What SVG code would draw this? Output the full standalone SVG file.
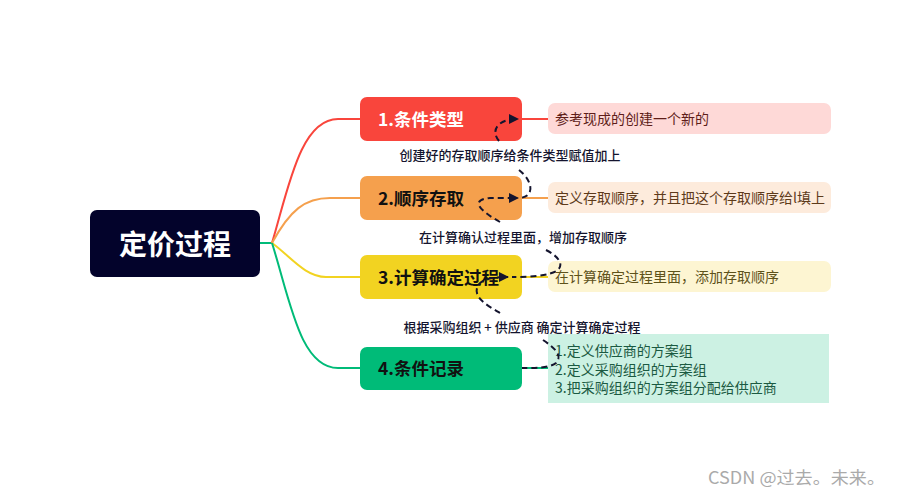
<svg xmlns="http://www.w3.org/2000/svg" width="902" height="496" viewBox="0 0 902 496">
<defs>
<marker id="arr" viewBox="0 0 10 10" refX="9" refY="5" markerWidth="5" markerHeight="5" orient="auto" markerUnits="strokeWidth">
<path d="M0,0 L10,5 L0,10 z" fill="#14142e"/>
</marker>
<style>
.branch{fill:none;stroke-width:2}
.rel{fill:none;stroke:#14142e;stroke-width:2;stroke-dasharray:6 4}
.ntext{font-family:"Noto Sans CJK SC","Noto Sans",sans-serif;font-weight:bold;font-size:17.5px;fill:#111}
.ltext{font-family:"Noto Sans CJK SC","Noto Sans",sans-serif;font-size:14px}
.rtext{font-family:"Noto Sans CJK SC","Noto Sans",sans-serif;font-size:13px;font-weight:500;fill:#14142e}
</style>
</defs>
<rect width="902" height="496" fill="#fff"/>
<g id="connectors">
<line x1="260" y1="243" x2="273" y2="243" stroke="#00BB78" stroke-width="2"/>
<path class="branch" stroke="#F9453C" d="M272,243 C288,190 300,119 338,119 L360,119"/>
<path class="branch" stroke="#F5A04D" d="M272,243 C290,210 305,198 330,198 L360,198"/>
<path class="branch" stroke="#F2D321" d="M272,243 C290,256 305,277 326,277 L360,277"/>
<path class="branch" stroke="#00BB78" d="M272,243 C290,300 300,368 338,368 L360,368"/>
<line x1="522" y1="119" x2="548" y2="119" stroke="#F9453C" stroke-width="2"/>
<line x1="522" y1="198" x2="548" y2="198" stroke="#F5A04D" stroke-width="2"/>
<line x1="522" y1="277" x2="548" y2="277" stroke="#F2D321" stroke-width="2"/>
<line x1="522" y1="368" x2="548" y2="368" stroke="#00BB78" stroke-width="2"/>
</g>
<g id="root">
<rect x="90" y="210" width="170" height="67" rx="7" fill="#03032B"/>
<text x="175" y="255" text-anchor="middle" font-family="'Noto Sans CJK SC',sans-serif" font-weight="bold" font-size="28" fill="#fff">定价过程</text>
</g>
<g id="node1">
<rect x="360" y="97" width="162" height="44" rx="7" fill="#F9453C"/>
<text x="378" y="126" class="ntext" style="fill:#fff">1.条件类型</text>
</g>
<g id="node2">
<rect x="360" y="176" width="162" height="44" rx="7" fill="#F5A04D"/>
<text x="378" y="205" class="ntext">2.顺序存取</text>
</g>
<g id="node3">
<rect x="360" y="255" width="162" height="44" rx="7" fill="#F2D321"/>
<text x="378" y="284" class="ntext">3.计算确定过程</text>
</g>
<g id="node4">
<rect x="360" y="347" width="162" height="43" rx="7" fill="#00BB78"/>
<text x="378" y="375" class="ntext">4.条件记录</text>
</g>
<g id="leaf1">
<rect x="548" y="103" width="283" height="31" rx="7" fill="#FED9D7"/>
<text x="555" y="124" class="ltext" fill="#5e1d19">参考现成的创建一个新的</text>
</g>
<g id="leaf2">
<rect x="548" y="182" width="283" height="31" rx="7" fill="#FDEBDC"/>
<text x="555" y="203" class="ltext" fill="#5e3a1a">定义存取顺序，并且把这个存取顺序给l填上</text>
</g>
<g id="leaf3">
<rect x="548" y="261" width="283" height="31" rx="7" fill="#FDF5D2"/>
<text x="555" y="282" class="ltext" fill="#5e521a">在计算确定过程里面，添加存取顺序</text>
</g>
<g id="leaf4">
<rect x="548" y="334" width="281" height="69" fill="#CCF1E3"/>
<text class="ltext" fill="#1b5a42"><tspan x="555" y="356">1.定义供应商的方案组</tspan><tspan x="555" y="374.5">2.定义采购组织的方案组</tspan><tspan x="555" y="393">3.把采购组织的方案组分配给供应商</tspan></text>
</g>
<g id="relationships">
<path class="rel" d="M499,141 C490,130 498,119 518,119" marker-end="url(#arr)"/>
<path class="rel" d="M519,170 C532,180 536,196 520,198"/>
<path class="rel" d="M500,222 C482,212 468,200 490,198 L518,198" marker-end="url(#arr)"/>
<path class="rel" d="M546,250 C558,256 564,264 558,270 C550,276 530,277 512,277"/>
<path class="rel" d="M500,313 C488,306 474,298 477,288 C480,279 492,277 508,277" marker-end="url(#arr)"/>
<path class="rel" d="M543,340 C555,348 563,356 556,363 C550,368 535,368 522,368"/>
<text x="510" y="160" text-anchor="middle" class="rtext">创建好的存取顺序给条件类型赋值加上</text>
<text x="523" y="242" text-anchor="middle" class="rtext">在计算确认过程里面，增加存取顺序</text>
<text x="522" y="332" text-anchor="middle" class="rtext">根据采购组织 + 供应商 确定计算确定过程</text>
</g>
<text x="708" y="484" font-family="'Noto Sans CJK SC','Liberation Sans',sans-serif" font-size="17" textLength="177" lengthAdjust="spacingAndGlyphs" fill="#aaa">CSDN @过去。未来。</text>
</svg>
